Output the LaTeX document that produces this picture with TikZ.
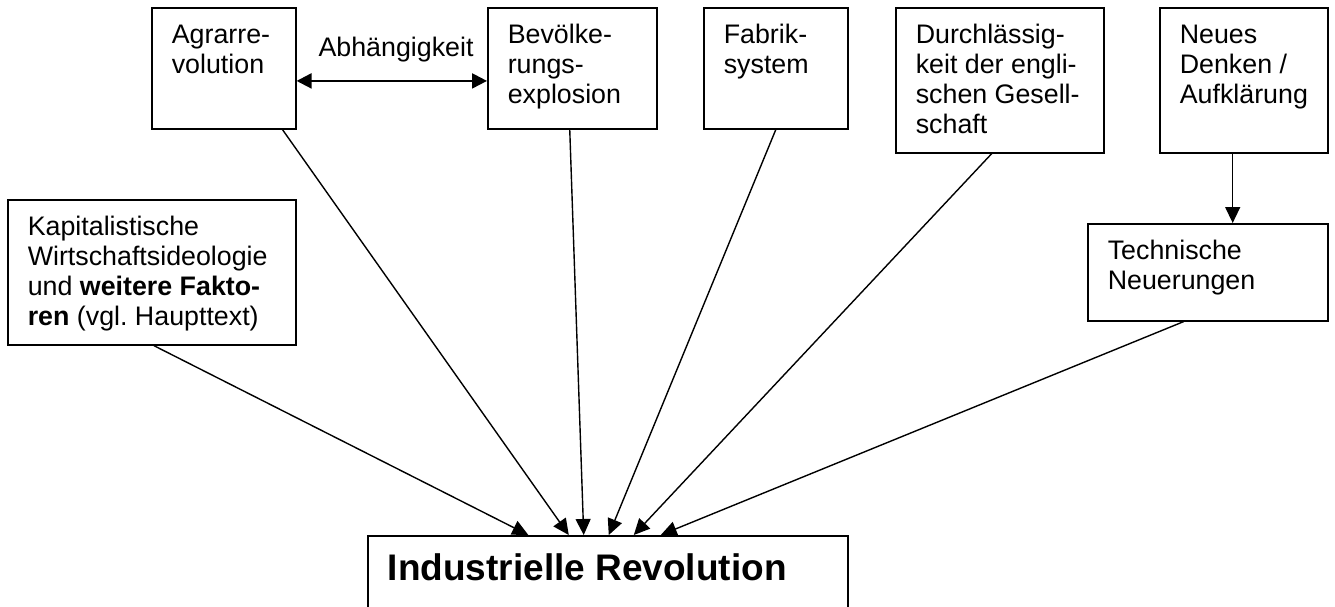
\documentclass[tikz,border=0pt]{standalone}
\usepackage{fontspec}
\setmainfont{Liberation Sans}
\usetikzlibrary{arrows.meta,calc}
\hfuzz=12pt
\vfuzz=20pt
\frenchspacing
\newcommand{\boxtext}[3]{\parbox[t][#2][t]{#1}{\raggedright\strut #3}}
\tikzset{
  box/.style={draw, line width=1.6pt, anchor=north west, inner xsep=20pt, inner ysep=15pt,
              font=\fontsize{26.8}{30}\selectfont},
  conn/.style={line width=1.4pt, -{Triangle[length=16pt,width=15pt]}},
  dbl/.style={line width=2.2pt, {Triangle[length=15pt,width=15pt]}-{Triangle[length=15pt,width=15pt]}},
  lbl/.style={font=\fontsize{26.8}{30}\selectfont, inner sep=0pt, anchor=base},
}
\begin{document}
\begin{tikzpicture}[x=1pt,y=-1pt]
\useasboundingbox (0,0) rectangle (1335,607);
\clip (0,0) rectangle (1335,607);

\node[box] (kap) at (7,199) {\boxtext{248pt}{115pt}{Kapitalistische\\Wirtschaftsideologie\\und \textbf{weitere Fakto-}\\\textbf{ren} (vgl. Haupttext)}};
\node[box] (agr) at (151,7) {\boxtext{104pt}{91pt}{Agrarre-\\volution}};
\node[box] (bev) at (487,7) {\boxtext{129pt}{91pt}{Bevölke-\\rungs-\\explosion}};
\node[box] (fab) at (703,7) {\boxtext{104pt}{91pt}{Fabrik-\\system}};
\node[box] (dur) at (895,7) {\boxtext{168pt}{115pt}{Durchlässig-\\keit der engli-\\schen Gesell-\\schaft}};
\node[box] (neu) at (1159,7) {\boxtext{128pt}{115pt}{Neues\\Denken /\\Aufklärung}};
\node[box] (tec) at (1087,223) {\boxtext{200pt}{67pt}{Technische\\Neuerungen}};
\node[box, inner ysep=15.5pt, font=\bfseries\fontsize{37}{42}\selectfont] (ind) at (367,535)
  {\boxtext{440pt}{119pt}{Industrielle Revolution}};

\node[lbl] (abh) at (396,57) {Abhängigkeit};

\draw[dbl] ($(agr.north east)!0.603!(agr.south east)$) -- ($(bev.north west)!0.603!(bev.south west)$);

\coordinate (neus) at ($(neu.south west)!0.4345!(neu.south east)$);
\draw[conn] (neus) -- (neus |- tec.north);

\draw[conn] ($(kap.south west)!0.507!(kap.south east)$) -- ($(ind.north west)!0.335!(ind.north east)$);
\draw[conn] ($(agr.south west)!0.903!(agr.south east)$) -- ($(ind.north west)!0.419!(ind.north east)$);
\draw[conn] ($(bev.south west)!0.485!(bev.south east)$) -- ($(ind.north west)!0.45!(ind.north east)$);
\draw[conn] ($(fab.south west)!0.5!(fab.south east)$) -- ($(ind.north west)!0.502!(ind.north east)$);
\draw[conn] ($(dur.south west)!0.4615!(dur.south east)$) -- ($(ind.north west)!0.554!(ind.north east)$);
\draw[conn] ($(tec.south west)!0.4!(tec.south east)$) -- ($(ind.north west)!0.61!(ind.north east)$);
\end{tikzpicture}
\end{document}
